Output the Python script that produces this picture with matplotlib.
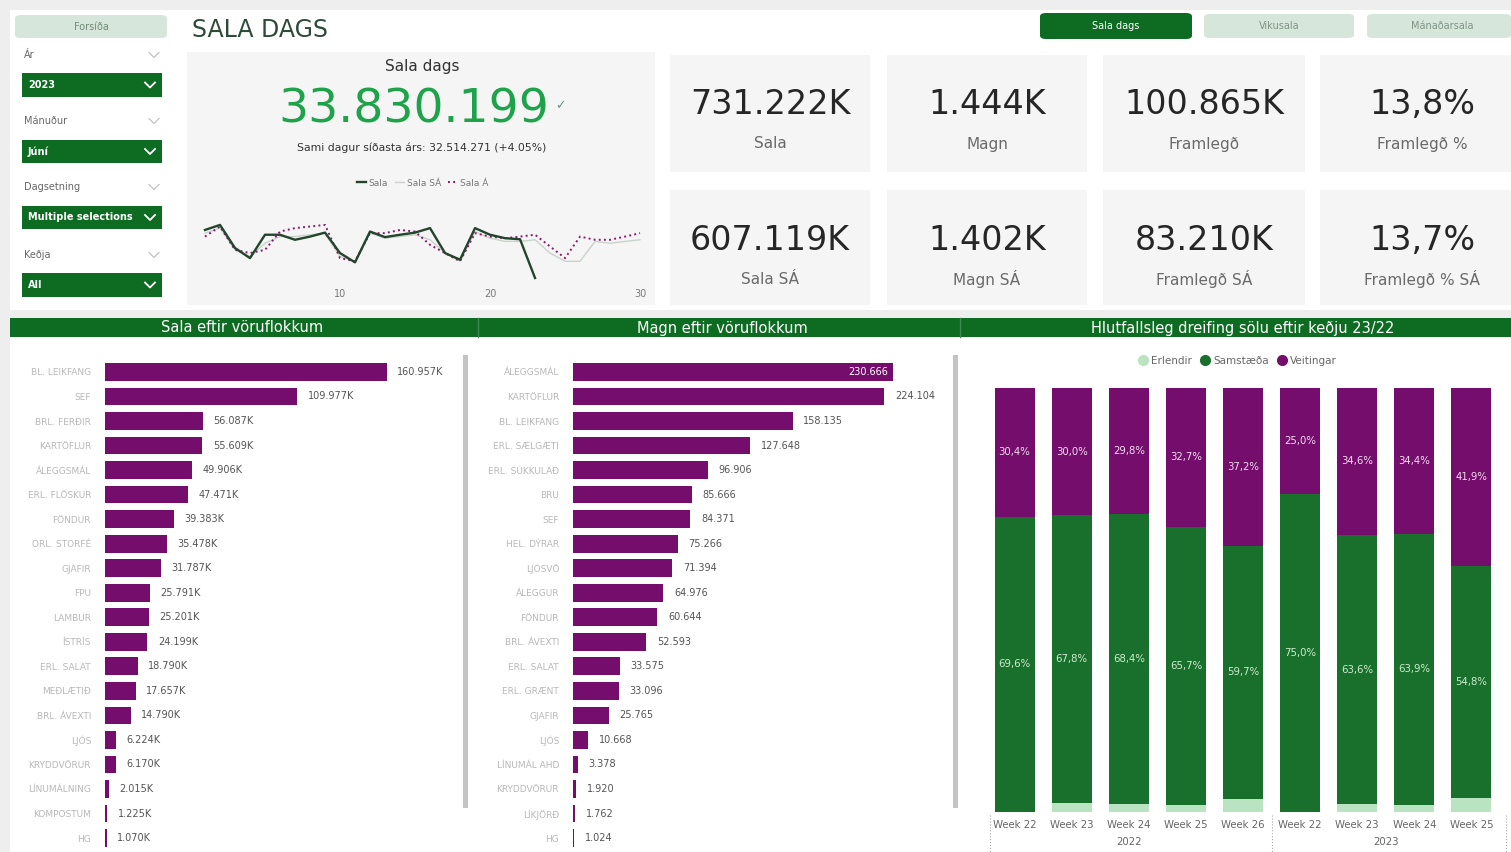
import matplotlib
matplotlib.use("Agg")
import matplotlib.pyplot as plt
from matplotlib.patches import Rectangle, FancyBboxPatch
from matplotlib.lines import Line2D
import numpy as np

plt.rcParams['font.family'] = ['DejaVu Sans']

W, H = 1511, 852

# ---- data ----
kpi_values = ["731.222K", "1.444K", "100.865K", "13,8%",
              "607.119K", "1.402K", "83.210K", "13,7%"]
kpi_labels = ["Sala", "Magn", "Framlegð", "Framlegð %",
              "Sala SÁ", "Magn SÁ", "Framlegð SÁ", "Framlegð % SÁ"]

days = np.arange(1, 31)
# daily sales (millions)
sala = [38.1, 40.0, 31.3, 27.5, 36.3, 36.3, 34.4, 35.6, 37.1, 29.4, 25.9, 37.5,
        35.4, 36.3, 37.1, 38.8, 29.4, 26.9, 38.8, 36.3, 35.0, 34.6, 20.0]
sala_sa = [36.9, 38.8, 30.6, 28.1, 33.1, 35.6, 35.6, 36.3, 36.9, 28.1, 26.3, 36.9,
           35.0, 35.6, 36.3, 34.4, 29.4, 26.3, 37.5, 35.0, 33.8, 33.8, 34.4, 29.4,
           26.3, 26.3, 33.8, 33.1, 33.8, 34.4]
sala_a = [35.6, 39.4, 30.6, 29.4, 30.6, 37.5, 38.8, 39.4, 40.0, 27.5, 26.3, 36.9,
          36.9, 38.1, 37.5, 32.5, 29.4, 26.3, 36.9, 35.6, 35.0, 35.6, 36.3, 31.9,
          27.5, 35.6, 34.4, 34.4, 35.6, 36.9]

cat_sala = ["BL. LEIKFANG", "SEF", "BRL. FERÐIR", "KARTÖFLUR", "ÁLEGGSMÁL",
            "ERL. FLÖSKUR", "FÖNDUR", "ORL. STORFÉ", "GJAFIR", "FPU", "LAMBUR",
            "ÍSTRÍS", "ERL. SALAT", "MEÐLÆTIÐ", "BRL. ÁVEXTI", "LJÓS",
            "KRYDDVÖRUR", "LÍNUMÁLNING", "KOMPOSTUM", "HG"]
val_sala = [160957, 109977, 56087, 55609, 49906, 47471, 39383, 35478, 31787,
            25791, 25201, 24199, 18790, 17657, 14790, 6224, 6170, 2015, 1225, 1070]

cat_magn = ["ÁLEGGSMÁL", "KARTÖFLUR", "BL. LEIKFANG", "ERL. SÆLGÆTI",
            "ERL. SÚKKULAÐ", "BRU", "SEF", "HEL. DÝRAR", "LJÓSVÖ", "ÁLEGGUR",
            "FÖNDUR", "BRL. ÁVEXTI", "ERL. SALAT", "ERL. GRÆNT", "GJAFIR", "LJÓS",
            "LÍNUMÁL AHD", "KRYDDVÖRUR", "LÍKJÖRÐ", "HG"]
val_magn = [230666, 224104, 158135, 127648, 96906, 85666, 84371, 75266, 71394,
            64976, 60644, 52593, 33575, 33096, 25765, 10668, 3378, 1920, 1762, 1024]

weeks = ["Week 22", "Week 23", "Week 24", "Week 25", "Week 26",
         "Week 22", "Week 23", "Week 24", "Week 25"]
years = ["2022", "2023"]
year_counts = [5, 4]
veitingar = [30.4, 30.0, 29.8, 32.7, 37.2, 25.0, 34.6, 34.4, 41.9]
samstaeda = [69.6, 67.8, 68.4, 65.7, 59.7, 75.0, 63.6, 63.9, 54.8]
erlendir = [0.0, 2.2, 1.8, 1.6, 3.1, 0.0, 1.8, 1.7, 3.3]

GREEN = '#0e6b22'
PURPLE = '#740d6c'
LIGHT = '#d7e6db'

fig = plt.figure(figsize=(W / 100, H / 100), dpi=100)
fig.patch.set_facecolor('#eeeeee')


def fx(x):
    return x / W


def fy(y):
    return 1 - y / H


def box(x0, y0, x1, y1):
    return [x0 / W, 1 - y1 / H, (x1 - x0) / W, (y1 - y0) / H]


def rect(x0, y0, x1, y1, color, rounded=False, z=-1):
    if rounded:
        p = FancyBboxPatch((fx(x0), fy(y1)), (x1 - x0) / W, (y1 - y0) / H,
                           boxstyle="round,pad=0,rounding_size=0.004",
                           transform=fig.transFigure, fc=color, ec='none', zorder=z)
    else:
        p = Rectangle((fx(x0), fy(y1)), (x1 - x0) / W, (y1 - y0) / H,
                      transform=fig.transFigure, fc=color, ec='none', zorder=z)
    fig.patches.append(p)


def text(x, y, s, **kw):
    kw.setdefault('va', 'center')
    fig.text(fx(x), fy(y), s, **kw)


def chevron(x, y, color, lw=1.0):
    fig.lines.append(Line2D([fx(x - 5), fx(x), fx(x + 5)], [fy(y - 2.5), fy(y + 2.5), fy(y - 2.5)],
                            transform=fig.transFigure, color=color, lw=lw))


# backgrounds
rect(10, 10, 1511, 310, 'white', z=-3)
rect(10, 337, 1511, 852, 'white', z=-3)

# ---- filter panel ----
rect(15, 15, 167, 38, LIGHT, rounded=True)
text(91, 27, "Forsíða", ha='center', fontsize=7, color='#6f8c76')
filters = [("Ár", "2023", 55, 73, 97), ("Mánuður", "Júní", 121, 140, 163),
           ("Dagsetning", "Multiple selections", 187, 206, 229), ("Keðja", "All", 255, 273, 297)]
for lab, sel, ly, b0, b1 in filters:
    text(24, ly, lab, ha='left', fontsize=7, color='#666666')
    chevron(154, ly, '#bbbbbb', 0.8)
    rect(22, b0, 162, b1, GREEN)
    text(28, (b0 + b1) / 2, sel, ha='left', fontsize=7, color='white', fontweight='bold')
    chevron(150, (b0 + b1) / 2, 'white', 1.3)

# ---- title and nav buttons ----
text(192, 30, "SALA DAGS", ha='left', fontsize=17, color='#2f4a38')
rect(1040, 13, 1192, 39, GREEN, rounded=True)
text(1116, 26, "Sala dags", ha='center', fontsize=7, color='white')
rect(1204, 14, 1354, 38, LIGHT, rounded=True)
text(1279, 26, "Vikusala", ha='center', fontsize=7, color='#7f9584')
rect(1367, 14, 1511, 38, LIGHT, rounded=True)
text(1442, 26, "Mánaðarsala", ha='center', fontsize=7, color='#7f9584')

# ---- sala dags card ----
rect(187, 52, 655, 305, '#f5f5f5')
text(422, 67, "Sala dags", ha='center', fontsize=11, color='#333333')
text(414, 110, "33.830.199", ha='center', fontsize=34, color='#1fa34a')
text(560, 106, "✓", ha='center', fontsize=9, color='#6a9a7a')
text(422, 148, "Sami dagur síðasta árs: 32.514.271 (+4.05%)", ha='center', fontsize=7.8, color='#333333')

ax = fig.add_axes(box(200, 205, 645, 282))
ax.set_facecolor('none')
ax.plot(days, sala_sa, color='#c8d4cb', lw=1.0, label='Sala SÁ')
ax.plot(days, sala_a, color='#8a1a6a', lw=1.4, ls=':', label='Sala Á')
ax.plot(days[:len(sala)], sala, color='#24452d', lw=1.7, label='Sala')
ax.set_xlim(0.667, 30.33)
ax.set_ylim(18.5, 47.5)
ax.set_xticks([10, 20, 30])
ax.tick_params(axis='x', length=0, labelsize=7, labelcolor='#777777', pad=5)
ax.set_yticks([])
for s in ax.spines.values():
    s.set_visible(False)
h, l = ax.get_legend_handles_labels()
order = [2, 0, 1]
ax.legend([h[i] for i in order], [l[i] for i in order], loc='lower center',
          bbox_to_anchor=(0.5, 1.12), ncol=3, frameon=False, fontsize=6.5,
          handlelength=1.0, columnspacing=0.8, handletextpad=0.3, labelcolor='#777777')

# ---- KPI cards ----
cols = [(670, 870), (887, 1087), (1103, 1305), (1320, 1511)]
rows = [(55, 172), (190, 305)]
for r, (y0, y1) in enumerate(rows):
    for c, (x0, x1) in enumerate(cols):
        i = r * 4 + c
        rect(x0, y0, x1, y1, '#f5f5f5')
        cx = (x0 + x1) / 2 if c < 3 else 1422
        text(cx, y0 + 50, kpi_values[i], ha='center', fontsize=24, color='#262626')
        text(cx, y0 + 89, kpi_labels[i], ha='center', fontsize=11, color='#6a6a6a')

# ---- header band ----
rect(10, 318, 1511, 337, GREEN)
for xs in (478, 960):
    fig.lines.append(Line2D([fx(xs), fx(xs)], [fy(318), fy(337)], transform=fig.transFigure,
                            color='#3f8a52', lw=1))
text(242, 328, "Sala eftir vöruflokkum", ha='center', fontsize=10.5, color='white')
text(722, 328, "Magn eftir vöruflokkum", ha='center', fontsize=10.5, color='white')
text(1243, 328, "Hlutfallsleg dreifing sölu eftir keðju 23/22", ha='center', fontsize=10.5, color='white')

# scrollbars
rect(463, 355, 468, 808, '#c4c4c4')
rect(953, 355, 958, 808, '#c4c4c4')


def hbar(ax_box, cats, vals, xmax, fmt):
    a = fig.add_axes(ax_box)
    a.set_facecolor('none')
    y = np.arange(len(vals))
    a.barh(y, vals, height=0.72, color=PURPLE)
    a.set_xlim(0, xmax)
    a.set_ylim(len(vals) - 0.5, -0.5)
    a.set_yticks(y)
    a.set_yticklabels(cats, fontsize=6.5, color='#b8b8b8')
    a.tick_params(axis='y', length=0, pad=10)
    a.set_xticks([])
    for s in a.spines.values():
        s.set_visible(False)
    for yi, v in zip(y, vals):
        lab = fmt(v)
        if v > 0.875 * xmax:
            a.text(v - xmax * 0.015, yi, lab, ha='right', va='center', fontsize=7, color='white')
        else:
            a.text(v + xmax * 0.03, yi, lab, ha='left', va='center', fontsize=7, color='#555555')
    return a


hbar(box(105, 359.7, 455, 850.3), cat_sala, val_sala, 200000, lambda v: f"{v / 1000:.3f}K")
hbar(box(573, 359.7, 934, 850.3), cat_magn, val_magn, 260000, lambda v: f"{v:,}".replace(',', '.'))

# ---- stacked percentage chart ----
ax3 = fig.add_axes(box(986, 388, 1500, 812))
ax3.set_facecolor('none')
x = np.arange(len(weeks))
erl = np.array(erlendir)
sam = np.array(samstaeda)
vei = np.array(veitingar)
colors3 = ['#b9e3c1', '#19702c', PURPLE]
ax3.bar(x, erl, width=0.7, color=colors3[0])
ax3.bar(x, sam, width=0.7, bottom=erl, color=colors3[1])
ax3.bar(x, vei, width=0.7, bottom=erl + sam, color=colors3[2])
for xi in x:
    ax3.text(xi, erl[xi] + sam[xi] + vei[xi] / 2, f"{vei[xi]:.1f}%".replace('.', ','),
             ha='center', va='center', fontsize=7.3, color='#f3dcef')
    ax3.text(xi, erl[xi] + sam[xi] / 2, f"{sam[xi]:.1f}%".replace('.', ','),
             ha='center', va='center', fontsize=7.3, color='#cdeccf')
ax3.set_xlim(-0.5, len(weeks) - 0.5)
ax3.set_ylim(0, 100)
ax3.set_xticks(x)
ax3.set_xticklabels(weeks, fontsize=7.3, color='#666666')
ax3.tick_params(axis='x', length=0, pad=6)
ax3.set_yticks([])
for s in ax3.spines.values():
    s.set_visible(False)
leg_handles = [Line2D([], [], ls='none', marker='o', markersize=7, color=c) for c in colors3]
ax3.legend(leg_handles, ['Erlendir', 'Samstæða', 'Veitingar'], loc='lower center',
           bbox_to_anchor=(0.49, 1.03), ncol=3, frameon=False, fontsize=7.5,
           handlelength=0.8, columnspacing=0.9, handletextpad=0.35, labelcolor='#666666')

start = 0
for yr, n in zip(years, year_counts):
    ax3.text(start + (n - 1) / 2, -0.07, yr, transform=ax3.get_xaxis_transform(),
             ha='center', va='center', fontsize=7.3, color='#666666')
    start += n
for xs in (990, 1272, 1506):
    fig.lines.append(Line2D([fx(xs), fx(xs)], [fy(815), fy(852)], transform=fig.transFigure,
                            color='#aaaaaa', lw=0.8, ls=':'))

fig.savefig('out.png', dpi=100, facecolor=fig.get_facecolor())
